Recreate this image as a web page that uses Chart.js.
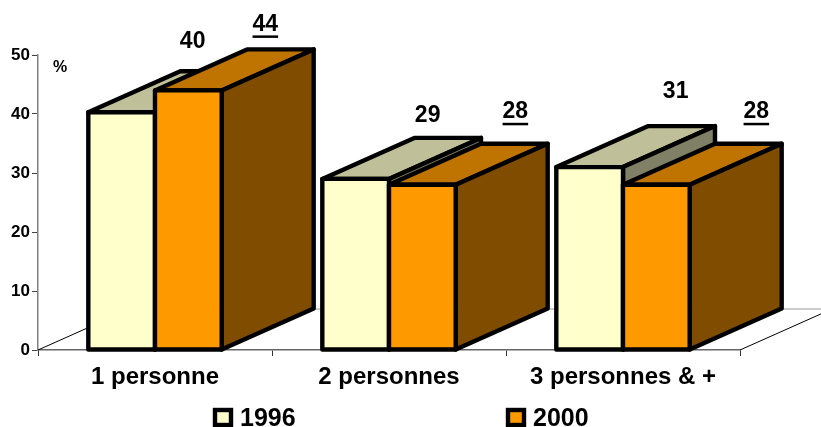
<!DOCTYPE html>
<html>
<head>
<meta charset="utf-8">
<script src="https://cdn.jsdelivr.net/npm/chart.js@4"></script>
<style>
body{margin:0;background:#fff}
canvas{display:block}
</style>
</head>
<body>
<canvas id="chart" width="821" height="427"></canvas>
<script>
const categories = ['1 personne','2 personnes','3 personnes & +'];
const seriesNames = ['1996','2000'];
const values1996 = [40.3,29,31];
const values2000 = [44,28,28];
const labels1996 = ['40','29','31'];
const labels2000 = ['44','28','28'];

const FONT = '"Liberation Sans", Arial, sans-serif';
// front / top / side faces, like the old excel 3d look
const colors1996 = ['#FFFFCC','#BFBF99','#808066'];
const colors2000 = ['#FF9900','#BF7300','#804D00'];
const DEPTH_X = 92, DEPTH_Y = -41, EDGE = 4.4;

// the value labels were placed by hand in the original, offset from the back top corner
const labelNudge = [
  [[-21,-30],[-20,-22],[-6,-34]],
  [[-15,-25],[1,-32],[8,-32]]
];

function poly(ctx,pts,fill){
  ctx.beginPath();
  pts.forEach((p,i)=>i?ctx.lineTo(p[0],p[1]):ctx.moveTo(p[0],p[1]));
  ctx.closePath();
  ctx.fillStyle=fill;
  ctx.fill();
  ctx.stroke();
}

function drawFloor(chart){
  const {ctx,chartArea:a} = chart;
  ctx.save();
  ctx.lineWidth=1;
  ctx.strokeStyle='#999';
  ctx.beginPath();
  ctx.moveTo(a.left+DEPTH_X,a.bottom+DEPTH_Y);
  ctx.lineTo(a.right+DEPTH_X,a.bottom+DEPTH_Y);
  ctx.stroke();
  ctx.strokeStyle='#000';
  ctx.beginPath();
  ctx.moveTo(a.left,a.bottom);
  ctx.lineTo(a.left+DEPTH_X,a.bottom+DEPTH_Y);
  ctx.moveTo(a.right,a.bottom);
  ctx.lineTo(a.right+DEPTH_X,a.bottom+DEPTH_Y);
  ctx.stroke();
  ctx.restore();
}

function drawBars(chart,i){
  const {ctx} = chart;
  const meta = chart.getDatasetMeta(i);
  const cols = chart.data.datasets[i].faces;
  ctx.save();
  ctx.lineWidth=EDGE;
  ctx.strokeStyle='#000';
  ctx.lineJoin='round';
  meta.data.forEach(b=>{
    const l=b.x-b.width/2, r=b.x+b.width/2, t=b.y, base=b.base;
    poly(ctx,[[l,t],[l+DEPTH_X,t+DEPTH_Y],[r+DEPTH_X,t+DEPTH_Y],[r,t]],cols[1]);
    poly(ctx,[[r,t],[r+DEPTH_X,t+DEPTH_Y],[r+DEPTH_X,base+DEPTH_Y],[r,base]],cols[2]);
  });
  meta.controller.draw();
  meta.data.forEach(b=>{
    ctx.strokeRect(b.x-b.width/2,b.y,b.width,b.base-b.y);
  });
  ctx.restore();
}

function drawTexts(chart){
  const {ctx,scales} = chart;
  ctx.save();
  ctx.fillStyle='#000';
  ctx.textAlign='center';
  ctx.textBaseline='middle';
  ctx.font='bold 23px '+FONT;
  chart.data.datasets.forEach((ds,i)=>{
    chart.getDatasetMeta(i).data.forEach((b,j)=>{
      const x=b.x+DEPTH_X+labelNudge[i][j][0];
      const y=b.y+DEPTH_Y+labelNudge[i][j][1];
      ctx.fillText(ds.valueLabels[j],x,y);
      if(ds.underline){
        const w=ctx.measureText(ds.valueLabels[j]).width;
        ctx.fillRect(x-w/2,y+11,w,2.5);
      }
    });
  });
  // unit next to the axis
  ctx.font='bold 16px '+FONT;
  ctx.fillText('%',scales.y.left+scales.y.width+22,scales.y.getPixelForValue(48)+1);
  // legend, two far apart entries under the plot
  const legendX=[215,508];
  ctx.textAlign='left';
  ctx.font='bold 25px '+FONT;
  ctx.lineWidth=EDGE;
  ctx.strokeStyle='#000';
  chart.data.datasets.forEach((ds,i)=>{
    ctx.fillStyle=ds.faces[0];
    ctx.fillRect(legendX[i],410,16,15);
    ctx.strokeRect(legendX[i],410,16,15);
    ctx.fillStyle='#000';
    ctx.fillText(ds.label,legendX[i]+25,419);
  });
  ctx.restore();
}

const bars3d = {
  id:'bars3d',
  // chart.js paints dataset 0 last, here 2000 has to cover 1996 so the order is done by hand
  beforeDatasetDraw(){ return false; },
  afterDatasetsDraw(chart){
    drawFloor(chart);
    drawBars(chart,0);
    drawBars(chart,1);
    drawTexts(chart);
  }
};

new Chart(document.getElementById('chart'),{
  type:'bar',
  data:{
    labels:categories,
    datasets:[
      {label:seriesNames[0],data:values1996,backgroundColor:colors1996[0],faces:colors1996,valueLabels:labels1996},
      {label:seriesNames[1],data:values2000,backgroundColor:colors2000[0],faces:colors2000,valueLabels:labels2000,underline:true}
    ]
  },
  options:{
    responsive:false,
    animation:false,
    layout:{padding:{top:55,right:81,left:0,bottom:0}},
    datasets:{bar:{categoryPercentage:0.57,barPercentage:1}},
    plugins:{legend:{display:false},tooltip:{enabled:false}},
    scales:{
      x:{
        afterFit(s){s.height=77;},
        grid:{offset:true,drawOnChartArea:false,color:'#333',tickLength:6,lineWidth:1},
        border:{color:'#666',width:1.5},
        ticks:{color:'#000',font:{family:FONT,size:24,weight:'bold'},padding:7,maxRotation:0,autoSkip:false}
      },
      y:{
        min:0,max:50,
        afterFit(s){s.width=38;},
        grid:{drawOnChartArea:false,color:'#444',tickLength:6,lineWidth:1},
        border:{color:'#808080',width:1.5},
        ticks:{stepSize:10,color:'#000',font:{family:FONT,size:17,weight:'bold'},padding:2}
      }
    }
  },
  plugins:[bars3d]
});
</script>
</body>
</html>
